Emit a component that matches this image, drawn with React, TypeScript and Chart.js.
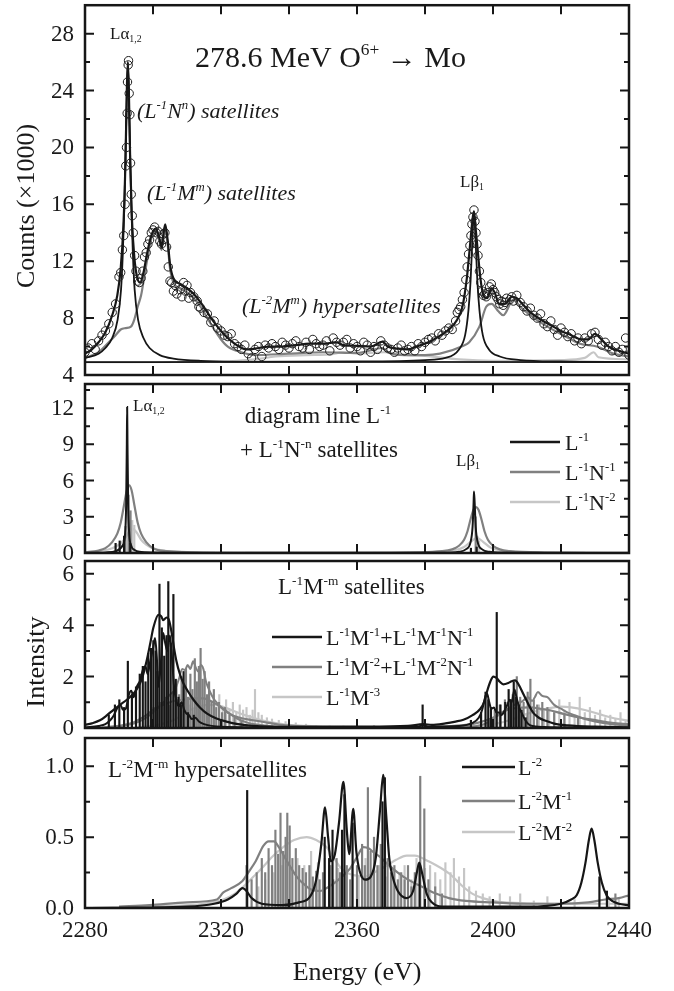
import React, { useEffect, useRef } from 'react';
import { Chart, registerables } from 'chart.js';
Chart.register(...registerables);

const FONT = "'Liberation Serif', 'Times New Roman', serif";
const BLACK = '#161616';
const GREY = '#808080';
const LIGHT = '#c6c6c6';
const X_MIN = 2280;
const X_MAX = 2440;
const X_TICKS = [2280, 2300, 2320, 2340, 2360, 2380, 2400, 2420, 2440];
const X_LABELS = [2280, 2320, 2360, 2400, 2440];

type Pt = [number, number];

// ---------- Panel 1 : measured spectrum (counts x1000) ----------
const measured: Pt[] = [
  [2280, 5.6], [2281, 5.9], [2282, 6.2], [2283, 5.8], [2284, 6.4], [2285, 6.8], [2286, 7.1], [2287, 7.6], [2288, 8.4], [2289, 9.0],
  [2290, 10.9], [2290.5, 11.2], [2291, 12.8], [2291.4, 13.8], [2291.8, 16.0], [2292, 18.7], [2292.2, 20.0], [2292.4, 22.4], [2292.5, 24.6], [2292.7, 25.8],
  [2292.8, 26.1], [2293, 23.8], [2293.2, 22.3], [2293.4, 18.9], [2293.6, 16.7], [2293.9, 15.2], [2294.2, 14.0], [2294.6, 12.4], [2295, 11.3], [2295.5, 10.6],
  [2296, 10.5], [2296.5, 10.8], [2297, 11.3], [2297.5, 12.3], [2298, 12.6], [2298.5, 13.2], [2299, 13.5], [2299.5, 14.0], [2300, 14.2], [2300.5, 14.4],
  [2301, 14.0], [2301.5, 14.1], [2302, 13.4], [2302.5, 13.2], [2303, 13.9], [2303.5, 14.0], [2304, 13.0], [2304.5, 11.6], [2305, 10.6], [2305.5, 10.5],
  [2306, 9.9], [2306.5, 10.3], [2307, 9.7], [2308, 10.0], [2308.5, 9.5], [2309, 10.5], [2309.5, 9.9], [2310, 10.3], [2310.5, 9.4], [2311, 9.8],
  [2312, 9.5], [2313, 9.2], [2313.5, 8.8], [2314, 8.7], [2315, 8.4], [2316, 8.3], [2317, 7.7], [2318, 7.8], [2319, 7.3], [2320, 7.1],
  [2321, 6.8], [2322, 6.7], [2323, 6.9], [2324, 6.2], [2325, 6.0], [2326, 5.8], [2327, 6.1], [2328, 5.5], [2329, 5.2], [2330, 5.8],
  [2331, 6.0], [2332, 5.3], [2333, 6.1], [2334, 5.9], [2335, 6.2], [2336, 6.0], [2337, 5.8], [2338, 6.3], [2339, 6.1], [2340, 5.9],
  [2341, 6.2], [2342, 6.4], [2343, 6.0], [2344, 5.9], [2345, 6.3], [2346, 5.8], [2347, 6.5], [2348, 6.2], [2349, 6.0], [2350, 6.1],
  [2351, 6.4], [2352, 5.7], [2353, 6.6], [2354, 6.3], [2355, 6.1], [2356, 6.3], [2357, 6.5], [2358, 5.9], [2359, 6.2], [2360, 6.0],
  [2361, 5.7], [2362, 6.3], [2363, 6.1], [2364, 5.6], [2365, 6.0], [2366, 5.8], [2367, 6.4], [2368, 6.1], [2369, 5.9], [2370, 5.8],
  [2371, 5.6], [2372, 5.9], [2373, 6.1], [2374, 5.7], [2375, 5.8], [2376, 6.0], [2377, 5.7], [2378, 6.2], [2379, 6.0], [2380, 6.3],
  [2381, 6.5], [2382, 6.6], [2383, 6.4], [2384, 6.9], [2385, 6.8], [2386, 7.1], [2387, 7.3], [2388, 7.2], [2389, 7.8], [2389.5, 8.4],
  [2390, 8.6], [2390.5, 8.8], [2391, 9.3], [2391.5, 9.8], [2392, 10.7], [2392.4, 11.6], [2392.8, 12.5], [2393.2, 13.1], [2393.5, 13.8], [2393.8, 14.6],
  [2394.1, 15.1], [2394.4, 15.6], [2394.7, 14.8], [2395, 14.0], [2395.3, 13.2], [2395.6, 12.4], [2396, 11.3], [2396.4, 10.5], [2396.8, 9.9], [2397.2, 9.6],
  [2397.6, 9.7], [2398, 9.5], [2398.5, 9.8], [2399, 10.2], [2399.5, 10.4], [2400, 10.0], [2400.5, 9.8], [2401, 9.5], [2401.5, 9.3], [2402, 9.0],
  [2402.5, 9.2], [2403, 8.9], [2403.5, 9.1], [2404, 9.4], [2405, 9.3], [2405.5, 9.5], [2406, 9.2], [2407, 9.6], [2408, 9.1], [2409, 8.8],
  [2410, 8.5], [2411, 8.7], [2412, 8.2], [2413, 8.0], [2414, 8.3], [2415, 7.6], [2416, 7.4], [2417, 7.8], [2418, 7.2], [2419, 6.8],
  [2420, 7.3], [2421, 7.0], [2422, 6.7], [2423, 6.9], [2424, 6.4], [2425, 6.6], [2426, 6.2], [2427, 6.6], [2428, 6.4], [2429, 6.9],
  [2430, 7.0], [2431, 6.5], [2432, 6.1], [2433, 6.3], [2434, 6.0], [2435, 5.7], [2436, 6.0], [2437, 5.6], [2438, 5.8], [2439, 6.6], [2440, 5.4],
];

const totalFit: Pt[] = [
  [2280, 5.5], [2282, 5.8], [2284, 6.3], [2286, 7.0], [2288, 8.2], [2289.5, 9.6], [2290.5, 11.5], [2291.3, 14.5], [2291.9, 19], [2292.3, 24],
  [2292.6, 26], [2292.9, 24], [2293.3, 19], [2293.8, 15], [2294.5, 12.3], [2295.3, 10.9], [2296.2, 10.5], [2297.2, 11.2], [2298.3, 12.6], [2299.5, 13.8],
  [2300.8, 14.3], [2301.8, 13.7], [2302.5, 13.0], [2303.0, 13.8], [2303.6, 14.6], [2304.3, 13.5], [2305.0, 11.8], [2306.0, 10.8], [2308, 10.4], [2310, 10.1],
  [2312, 9.7], [2314, 9.1], [2316, 8.4], [2318, 7.7], [2320, 7.1], [2322, 6.6], [2324, 6.2], [2326, 5.9], [2328, 5.8], [2330, 5.85],
  [2334, 6.0], [2338, 6.0], [2342, 6.1], [2346, 6.2], [2350, 6.2], [2354, 6.3], [2356, 6.1], [2360, 6.05], [2364, 6.0], [2367.5, 6.35],
  [2369, 6.0], [2372, 5.85], [2375, 5.8], [2378, 6.05], [2381, 6.3], [2384, 6.7], [2387, 7.2], [2389.5, 7.9], [2391, 8.8], [2392.3, 10.8],
  [2393.2, 13], [2394, 15.0], [2394.4, 15.5], [2394.9, 14.3], [2395.6, 12.5], [2396.3, 10.8], [2397.2, 9.6], [2398.3, 9.4], [2399.5, 10.1], [2400.5, 9.8],
  [2401.8, 9.0], [2403.5, 9.0], [2405.5, 9.5], [2407, 9.4], [2409, 8.9], [2411, 8.4], [2414, 7.9], [2417, 7.5], [2420, 7.1], [2423, 6.8],
  [2426, 6.5], [2428, 6.5], [2430, 6.9], [2431.5, 6.6], [2434, 6.0], [2437, 5.7], [2440, 5.5],
];

const lineLa: Pt[] = [
  [2280, 5.2], [2284, 5.5], [2286, 5.9], [2288, 6.6], [2289.6, 7.9], [2290.6, 10.0], [2291.1, 12.4], [2291.6, 16.0], [2292.1, 21.5], [2292.6, 26.0],
  [2293.1, 21.5], [2293.6, 16.0], [2294.1, 12.4], [2294.6, 10.0], [2295.6, 7.9], [2297.2, 6.6], [2299, 5.9], [2302, 5.4], [2306, 5.15], [2314, 5.0],
  [2340, 4.92], [2440, 4.9],
];

const lineLb: Pt[] = [
  [2280, 4.9], [2360, 4.95], [2380, 5.05], [2386, 5.2], [2390, 5.8], [2391.8, 6.8], [2392.8, 8.6], [2393.4, 10.6], [2393.9, 13.3], [2394.4, 15.5],
  [2394.9, 13.3], [2395.4, 10.6], [2396, 8.6], [2397, 6.8], [2398.8, 5.8], [2402, 5.3], [2408, 5.05], [2420, 4.95], [2440, 4.92],
];

const satL1M: Pt[] = [
  [2280, 5.2], [2284, 5.6], [2287, 6.3], [2289, 6.8], [2290.5, 7.2], [2292, 7.3], [2293.5, 7.4], [2294.5, 7.9], [2295.5, 8.8], [2296.5, 9.6],
  [2297.5, 11.0], [2298.5, 12.4], [2299.5, 13.6], [2300.6, 14.2], [2301.8, 13.5], [2302.5, 12.8], [2303.0, 13.5], [2303.6, 14.2], [2304.3, 13.2], [2305.0, 11.5],
  [2306.0, 10.5], [2308, 10.1], [2310, 9.8], [2312, 9.4], [2314, 8.8], [2316, 8.0], [2318, 7.2], [2320, 6.5], [2322, 6.0], [2326, 5.6],
  [2330, 5.4], [2340, 5.5], [2350, 5.6], [2360, 5.55], [2367.5, 5.9], [2369, 5.6], [2374, 5.4], [2380, 5.4], [2384.4, 5.5], [2391.3, 6.05],
  [2393, 6.3], [2396, 7.4], [2398, 8.8], [2399.6, 9.0], [2401.5, 8.5], [2403, 8.2], [2406, 9.3], [2408, 8.8], [2411, 8.2], [2416, 7.4],
  [2420.7, 6.8], [2425.6, 6.2], [2430.5, 6.0], [2435.4, 5.5], [2440, 5.3],
];

const hypL2M: Pt[] = [
  [2280, 4.9], [2320, 4.95], [2330, 5.1], [2336, 5.3], [2345, 5.4], [2352, 5.45], [2356, 5.6], [2360, 5.5], [2368, 5.6], [2375, 5.4],
  [2380, 5.35], [2390, 5.1], [2400, 5.0], [2420, 5.05], [2427, 5.2], [2429.6, 5.6], [2431, 5.25], [2440, 5.1],
];

// ---------- Panel 2 : diagram line + L-1N-n ----------
const p2L1: Pt[] = [
  [2280, 0], [2286, 0.05], [2289, 0.15], [2290, 0.3], [2291, 0.6], [2291.8, 1.6], [2292.1, 4], [2292.3, 9], [2292.4, 12.1], [2292.5, 9],
  [2292.7, 4], [2293, 1.6], [2293.6, 0.6], [2294.6, 0.25], [2296, 0.1], [2300, 0.04], [2320, 0.01], [2385, 0.02], [2390, 0.1], [2392, 0.3],
  [2393.4, 0.9], [2394, 2.2], [2394.3, 4.2], [2394.4, 5.1], [2394.6, 4.2], [2394.9, 2.2], [2395.5, 0.9], [2396.8, 0.3], [2399, 0.1], [2405, 0.02], [2440, 0],
];
const p2L1Sticks: Pt[] = [[2289.0, 0.8], [2290.2, 1.0], [2291.5, 1.4], [2293.3, 0.8], [2393.5, 0.4], [2395.2, 0.5]];
const p2L1N1: Pt[] = [
  [2280, 0.05], [2284, 0.2], [2286, 0.4], [2288, 0.9], [2289.5, 1.6], [2290.5, 2.5], [2291.5, 4.0], [2292.3, 5.2], [2293, 5.6], [2293.7, 5.2],
  [2294.5, 4.0], [2295.5, 2.5], [2296.5, 1.6], [2298, 0.9], [2300, 0.4], [2304, 0.15], [2315, 0.03], [2370, 0.02], [2385, 0.15], [2388, 0.3],
  [2390, 0.6], [2391.5, 1.1], [2392.5, 1.8], [2393.5, 2.9], [2394.3, 3.6], [2395, 3.8], [2395.7, 3.6], [2396.5, 2.9], [2397.5, 1.8], [2398.5, 1.1],
  [2400, 0.6], [2402, 0.3], [2405, 0.15], [2415, 0.04], [2440, 0.01],
];
const p2L1N1Sticks: Pt[] = [[2291.9, 2.2], [2292.8, 4.8], [2293.4, 3.5], [2394.9, 3.0]];
const p2L1N2: Pt[] = [
  [2280, 0.05], [2285, 0.2], [2288, 0.4], [2290, 0.7], [2291.5, 1.1], [2292.8, 1.7], [2294, 2.0], [2295.2, 1.7], [2296.5, 1.1], [2298, 0.7],
  [2300, 0.4], [2303, 0.2], [2310, 0.08], [2330, 0.02], [2375, 0.02], [2385, 0.1], [2389, 0.25], [2391.5, 0.5], [2393.5, 0.95], [2395.3, 1.25],
  [2397, 0.95], [2399, 0.5], [2401.5, 0.25], [2405, 0.12], [2412, 0.05], [2440, 0.01],
];
const p2L1N2Sticks: Pt[] = [[2292.9, 1.2], [2293.9, 2.7], [2294.5, 2.3], [2395.4, 1.4], [2395.9, 1.0]];

// ---------- Panel 3 : L-1M-m satellites ----------
const p3M1Env: Pt[] = [
  [2280, 0.12], [2282, 0.18], [2284.4, 0.3], [2286.5, 0.5], [2288.3, 0.7], [2290.3, 0.9], [2292.3, 1.1], [2294, 1.3], [2295.2, 1.5], [2296.7, 1.9],
  [2298.1, 2.6], [2299.2, 3.3], [2300.1, 3.9], [2301.6, 4.4], [2302.4, 4.35], [2303, 4.2], [2304, 4.3], [2304.7, 4.2], [2305.5, 3.7], [2306.2, 3.1],
  [2306.9, 2.6], [2307.9, 2.1], [2308.9, 1.75], [2310.4, 1.4], [2311.9, 1.1], [2313.8, 0.8], [2315.8, 0.57], [2318.5, 0.38], [2321.6, 0.25], [2325, 0.15],
  [2329.5, 0.08], [2340, 0.04], [2360, 0.05], [2375, 0.08], [2379.5, 0.15], [2382, 0.12], [2386, 0.18], [2389, 0.25], [2391.3, 0.32], [2394, 0.5],
  [2396.3, 0.75], [2397.5, 1.05], [2398.2, 1.4], [2399.2, 1.8], [2400.1, 2.0], [2401, 1.95], [2402, 1.8], [2403, 1.7], [2404.5, 1.75], [2405.5, 1.82],
  [2406.5, 1.85], [2407.5, 1.7], [2409, 1.3], [2410.5, 0.9], [2411.8, 0.6], [2413.5, 0.4], [2415.7, 0.27], [2418, 0.17], [2422, 0.1], [2430, 0.05], [2440, 0.03],
];
const p3M1Fine: Pt[] = [
  [2280, 0.02], [2284, 0.08], [2286, 0.15], [2287.4, 0.3], [2288.5, 0.5], [2289.4, 0.75], [2290.4, 0.9], [2291.2, 0.7], [2292, 0.75], [2292.9, 1.3],
  [2293.6, 1.45], [2294.3, 1.2], [2295.2, 1.6], [2296.2, 1.85], [2297.1, 2.3], [2297.8, 2.4], [2298.4, 2.1], [2299.2, 2.6], [2300, 3.1], [2300.6, 3.5],
  [2301.1, 2.8], [2301.6, 1.6], [2302.3, 2.5], [2303, 3.7], [2303.6, 3.3], [2304.2, 3.0], [2305, 3.6], [2305.6, 2.7], [2306.2, 1.6], [2307, 1.0],
  [2307.6, 0.85], [2308.4, 1.0], [2309.2, 0.7], [2309.9, 0.55], [2310.6, 0.5], [2311.4, 0.35], [2312.5, 0.4], [2313.5, 0.25], [2315, 0.15], [2320, 0.05],
  [2340, 0.02], [2378, 0.05], [2379.4, 0.12], [2381, 0.05], [2390, 0.08], [2394, 0.2], [2395.8, 0.4], [2396.8, 0.7], [2397.5, 1.1], [2398.2, 1.35],
  [2398.9, 1.0], [2399.5, 0.75], [2400.3, 0.8], [2401, 0.6], [2401.8, 0.6], [2402.5, 0.5], [2403.3, 0.65], [2404.2, 0.9], [2404.9, 1.1], [2405.5, 1.0],
  [2406.3, 1.5], [2406.9, 1.2], [2407.7, 0.8], [2408.6, 0.55], [2409.5, 0.3], [2411, 0.1], [2415, 0.04], [2440, 0.01],
];
const p3M1Sticks: Pt[] = [
  [2287.0, 0.5], [2288.8, 0.9], [2290.1, 1.1], [2291.5, 0.8], [2292.6, 2.6], [2293.8, 1.3], [2295.0, 1.6], [2296.1, 2.1], [2297.0, 2.4], [2297.8, 1.8],
  [2298.6, 2.9], [2299.4, 3.1], [2300.1, 3.4], [2300.8, 3.0], [2301.3, 2.2], [2301.9, 5.6], [2302.6, 3.9], [2303.3, 2.8], [2304.0, 3.6], [2304.5, 5.7],
  [2305.2, 3.3], [2306.0, 5.2], [2306.7, 1.9], [2307.5, 1.2], [2308.2, 0.9], [2309.0, 2.2], [2310.3, 0.6], [2312.0, 0.5], [2379.3, 0.9], [2393.5, 0.3],
  [2396.5, 0.6], [2397.8, 1.4], [2398.6, 1.1], [2399.4, 0.8], [2401.1, 4.5], [2402.2, 0.9], [2403.6, 1.0], [2404.6, 1.5], [2405.3, 1.1], [2406.1, 1.8],
  [2406.8, 1.2], [2407.6, 0.9], [2408.4, 0.7], [2409.6, 0.4],
];
const p3M2Env: Pt[] = [
  [2285, 0.02], [2290, 0.08], [2294, 0.2], [2296.2, 0.35], [2298, 0.5], [2300, 0.7], [2302, 0.85], [2304, 0.95], [2306, 1.05], [2309, 1.1],
  [2312, 1.15], [2314.8, 1.15], [2317, 1.05], [2319, 0.9], [2320.7, 0.75], [2322.6, 0.55], [2325, 0.42], [2329.5, 0.3], [2334, 0.2], [2339, 0.1],
  [2350, 0.04], [2370, 0.03], [2385, 0.06], [2392, 0.12], [2396, 0.22], [2400, 0.4], [2404, 0.7], [2407, 0.78], [2411, 0.8], [2414, 0.75],
  [2417, 0.68], [2420.7, 0.55], [2425, 0.42], [2430.5, 0.3], [2435, 0.2], [2440, 0.14],
];
const p3M2Fine: Pt[] = [
  [2290, 0.05], [2295, 0.2], [2298, 0.4], [2300, 0.6], [2302, 0.85], [2303.5, 1.05], [2305, 1.3], [2306.5, 1.5], [2307.6, 1.9], [2308.6, 2.3],
  [2309.4, 2.25], [2310.2, 2.45], [2311, 2.3], [2311.8, 2.6], [2312.6, 2.35], [2313.3, 2.2], [2314.1, 2.45], [2314.8, 2.3], [2315.6, 1.8], [2316.8, 1.4],
  [2317.8, 1.15], [2318.7, 1.0], [2320, 0.8], [2321.4, 0.65], [2322.6, 0.55], [2325, 0.35], [2328, 0.2], [2333, 0.1], [2340, 0.04], [2390, 0.03],
  [2396, 0.1], [2399, 0.25], [2401, 0.45], [2403, 0.6], [2405, 0.8], [2407, 0.95], [2408.7, 1.05], [2410.3, 1.2], [2411.5, 1.05], [2412.3, 1.2],
  [2413.2, 1.4], [2414.5, 1.25], [2416, 1.2], [2418, 0.9], [2420, 0.75], [2422, 0.6], [2424, 0.5], [2427, 0.35], [2430, 0.25], [2435, 0.15], [2440, 0.1],
];
const p3M2Sticks: Pt[] = [
  [2298.5, 0.5], [2300.2, 0.8], [2302.0, 1.0], [2303.8, 1.2], [2305.0, 0.9], [2306.0, 1.4], [2306.9, 1.7], [2307.7, 1.3], [2308.4, 2.0], [2309.0, 1.6],
  [2309.7, 2.3], [2310.3, 1.2], [2311.0, 2.1], [2311.6, 1.5], [2312.3, 2.7], [2312.9, 1.8], [2313.5, 2.4], [2314.0, 3.1], [2314.6, 1.9], [2315.2, 2.2],
  [2315.9, 1.3], [2316.5, 1.8], [2317.2, 1.0], [2317.9, 1.5], [2318.6, 0.8], [2319.4, 1.0], [2320.3, 0.6], [2321.2, 0.8], [2322.5, 0.5], [2324, 0.4],
  [2326, 0.3], [2399.0, 0.3], [2400.5, 0.7], [2402.0, 0.9], [2403.5, 1.1], [2404.8, 0.8], [2405.8, 1.3], [2407.0, 2.0], [2408.0, 1.2], [2409.0, 1.0],
  [2410.2, 1.4], [2411.0, 1.9], [2412.0, 1.1], [2413.0, 0.9], [2414.5, 1.0], [2416, 0.8], [2418, 0.6], [2421, 0.5], [2425, 0.4],
];
const p3M3Env: Pt[] = [
  [2295, 0.02], [2300, 0.08], [2305, 0.25], [2308, 0.45], [2311, 0.7], [2314, 0.85], [2317, 0.9], [2320, 0.85], [2323, 0.7], [2327, 0.5],
  [2332, 0.3], [2338, 0.15], [2345, 0.08], [2355, 0.04], [2380, 0.03], [2395, 0.08], [2402, 0.2], [2406, 0.35], [2410, 0.55], [2414, 0.7],
  [2418, 0.8], [2420, 0.83], [2423, 0.8], [2427, 0.7], [2431, 0.55], [2435, 0.4], [2440, 0.28],
];
const p3M3Sticks: Pt[] = [
  [2309, 0.6], [2310.5, 0.9], [2312, 0.7], [2313.5, 1.0], [2315, 0.8], [2316.5, 1.2], [2318, 0.9], [2319.5, 1.3], [2320.5, 0.8], [2321.5, 1.1],
  [2322.5, 0.7], [2323.5, 1.0], [2324.5, 0.6], [2325.5, 0.9], [2326.5, 0.7], [2327.5, 0.8], [2328.5, 0.5], [2329.3, 0.7], [2330, 1.5], [2331, 0.6],
  [2332, 0.5], [2333.5, 0.4], [2335, 0.35], [2337, 0.3], [2339, 0.25], [2342, 0.2], [2345, 0.15], [2348, 0.1], [2352, 0.08], [2356, 0.08],
  [2365, 0.1], [2405, 0.3], [2408, 0.4], [2410, 0.5], [2412, 0.6], [2413.5, 0.9], [2415, 0.7], [2416.5, 0.8], [2418, 0.6], [2419.5, 1.1],
  [2421, 0.7], [2422.5, 1.0], [2424, 0.5], [2425.5, 1.2], [2427, 0.6], [2428.5, 0.8], [2430, 0.5], [2431.5, 0.7], [2433, 0.4], [2434.5, 0.5],
  [2436, 0.35], [2437.5, 0.6], [2439, 0.3],
];

// ---------- Panel 4 : L-2M-m hypersatellites ----------
const p4L2: Pt[] = [
  [2280, 0], [2310, 0.01], [2318, 0.03], [2322, 0.06], [2324.5, 0.1], [2326.3, 0.14], [2327.5, 0.12], [2329, 0.07], [2332, 0.03], [2338, 0.02],
  [2343, 0.04], [2346.2, 0.08], [2348, 0.2], [2349.5, 0.45], [2350.6, 0.71], [2351.5, 0.5], [2352.3, 0.33], [2353.5, 0.38], [2354.7, 0.6], [2356, 0.89],
  [2357, 0.55], [2357.7, 0.38], [2358.9, 0.7], [2359.8, 0.4], [2360.8, 0.26], [2362.4, 0.2], [2364, 0.22], [2365.5, 0.35], [2366.8, 0.7], [2367.7, 0.94],
  [2368.6, 0.65], [2369.5, 0.35], [2370.5, 0.22], [2372, 0.12], [2374.6, 0.07], [2376.5, 0.12], [2377.6, 0.25], [2378.3, 0.32], [2379.2, 0.24], [2380.5, 0.1],
  [2382, 0.04], [2385, 0.01], [2410, 0.01], [2420, 0.03], [2423, 0.06], [2424.6, 0.09], [2426, 0.18], [2427.2, 0.32], [2428.2, 0.48], [2429, 0.56],
  [2429.8, 0.48], [2430.8, 0.32], [2432, 0.18], [2433.4, 0.09], [2435, 0.05], [2437, 0.03], [2440, 0.02],
];
const p4L2Sticks: Pt[] = [
  [2327.7, 0.83], [2350.5, 0.5], [2351.8, 0.35], [2352.8, 0.55], [2355.6, 0.55], [2356.3, 0.8], [2358.7, 0.6], [2367.5, 0.75], [2368.2, 0.92], [2378.4, 0.3],
  [2431.3, 0.22], [2433.5, 0.12],
];
const p4M1: Pt[] = [
  [2290, 0.01], [2299, 0.02], [2310, 0.04], [2318.8, 0.06], [2320.7, 0.11], [2323, 0.14], [2326.3, 0.19], [2328, 0.25], [2330.2, 0.33], [2332.5, 0.44],
  [2334, 0.47], [2335.6, 0.47], [2337, 0.43], [2338.7, 0.36], [2340.4, 0.29], [2342.3, 0.22], [2344.3, 0.17], [2346.5, 0.13], [2349.2, 0.12], [2351, 0.14],
  [2353, 0.17], [2355.5, 0.22], [2358, 0.28], [2360, 0.36], [2361.9, 0.43], [2363.5, 0.42], [2365, 0.39], [2366.8, 0.36], [2369, 0.31], [2372, 0.25],
  [2375, 0.2], [2378.3, 0.16], [2380, 0.14], [2381.5, 0.12], [2383.4, 0.1], [2387, 0.07], [2392, 0.05], [2400, 0.04], [2410, 0.03], [2420, 0.03],
  [2428, 0.04], [2433, 0.06], [2437, 0.07], [2440, 0.09],
];
const p4M1Sticks: Pt[] = [
  [2327.5, 0.3], [2329, 0.2], [2330.5, 0.25], [2332, 0.35], [2333, 0.25], [2334, 0.42], [2335, 0.3], [2336, 0.55], [2336.8, 0.38], [2337.5, 0.67],
  [2338.3, 0.4], [2339, 0.5], [2339.5, 0.67], [2340.2, 0.58], [2341, 0.35], [2342, 0.42], [2343, 0.3], [2344, 0.28], [2345, 0.25], [2346, 0.3],
  [2347, 0.22], [2348, 0.26], [2349, 0.2], [2350, 0.25], [2352, 0.3], [2353, 0.2], [2354, 0.35], [2355, 0.25], [2357, 0.3], [2358, 0.2],
  [2360, 0.3], [2361.5, 0.45], [2362.3, 0.3], [2363.2, 0.85], [2364, 0.4], [2365, 0.5], [2366, 0.3], [2367, 0.45], [2369, 0.35], [2370, 0.25],
  [2371, 0.3], [2372, 0.2], [2373, 0.25], [2374, 0.2], [2375, 0.3], [2376, 0.15], [2377, 0.25], [2378.6, 0.93], [2379.8, 0.7], [2381, 0.2],
  [2383, 0.15], [2385, 0.1], [2436, 0.1],
];
const p4M2: Pt[] = [
  [2300, 0.01], [2315, 0.03], [2320.7, 0.06], [2324, 0.1], [2327, 0.16], [2329.5, 0.22], [2332, 0.28], [2335, 0.36], [2338.3, 0.43], [2341.5, 0.48],
  [2345.2, 0.5], [2348, 0.48], [2351, 0.43], [2353, 0.36], [2355, 0.29], [2357, 0.25], [2359.5, 0.23], [2362, 0.22], [2365, 0.25], [2368.8, 0.3],
  [2371.5, 0.34], [2374.6, 0.37], [2377, 0.37], [2378.5, 0.36], [2381, 0.33], [2383.4, 0.3], [2385.5, 0.27], [2387.3, 0.24], [2389.5, 0.19], [2391.2, 0.15],
  [2394, 0.1], [2397, 0.07], [2403, 0.04], [2420, 0.03], [2440, 0.03],
];
const p4M2Sticks: Pt[] = [
  [2331, 0.15], [2333, 0.2], [2335.5, 0.25], [2338, 0.3], [2340.5, 0.28], [2342.5, 0.35], [2344.5, 0.3], [2346.5, 0.4], [2348.5, 0.32], [2350.5, 0.35],
  [2352.5, 0.3], [2354.5, 0.28], [2356.5, 0.25], [2358.5, 0.3], [2360.5, 0.22], [2362.5, 0.35], [2364.5, 0.25], [2366.5, 0.3], [2368.5, 0.22], [2370.5, 0.28],
  [2372.5, 0.25], [2374, 0.3], [2376, 0.2], [2377.5, 0.35], [2380, 0.28], [2381.5, 0.3], [2383, 0.25], [2384.5, 0.2], [2386, 0.32], [2387.5, 0.25],
  [2388.5, 0.35], [2390, 0.22], [2391.5, 0.28], [2393, 0.15], [2395, 0.12], [2397, 0.1], [2399, 0.08], [2402, 0.1], [2405, 0.08], [2408, 0.1],
  [2412, 0.05], [2416, 0.08], [2420, 0.05], [2424, 0.06], [2434, 0.05], [2437, 0.06],
];

// ---------- helpers ----------
const toXY = (a: Pt[]) => a.map(([x, y]) => ({ x, y }));

function lineDs(data: Pt[], color: string, width: number, order: number) {
  return {
    type: 'line', data: toXY(data), borderColor: color, borderWidth: width, pointRadius: 0,
    fill: false, cubicInterpolationMode: 'monotone', order,
  };
}
function stickDs(data: Pt[], color: string, order: number) {
  return {
    type: 'bar', data: toXY(data), backgroundColor: color, borderWidth: 0,
    barThickness: 1.5, grouped: false, order,
  };
}

type Part = { t: string; k: number };
function parseRich(s: string): Part[] {
  const parts: Part[] = [];
  let buf = '';
  let i = 0;
  while (i < s.length) {
    const c = s[i];
    if ((c === '^' || c === '_') && s[i + 1] === '{') {
      if (buf) { parts.push({ t: buf, k: 0 }); buf = ''; }
      const end = s.indexOf('}', i);
      parts.push({ t: s.slice(i + 2, end), k: c === '^' ? 1 : -1 });
      i = end + 1;
    } else { buf += c; i++; }
  }
  if (buf) parts.push({ t: buf, k: 0 });
  return parts;
}

function drawRich(ctx: CanvasRenderingContext2D, s: string, x: number, y: number, size: number, italic = false, align = 'left') {
  const parts = parseRich(s);
  const small = size * 0.58;
  const font = (sz: number) => `${italic ? 'italic ' : ''}${sz}px ${FONT}`;
  let w = 0;
  for (const p of parts) { ctx.font = font(p.k ? small : size); w += ctx.measureText(p.t).width; }
  let cx = align === 'center' ? x - w / 2 : x;
  ctx.textAlign = 'left';
  ctx.textBaseline = 'alphabetic';
  for (const p of parts) {
    ctx.font = font(p.k ? small : size);
    const dy = p.k === 1 ? -size * 0.4 : p.k === -1 ? size * 0.2 : 0;
    ctx.fillText(p.t, cx, y + dy);
    cx += ctx.measureText(p.t).width;
  }
}

type TextSpec = { s: string; x: number; y: number; size: number; italic?: boolean; align?: string; rotate?: boolean };
type LegendSpec = { x1: number; x2: number; tx: number; items: { y: number; color: string; s: string }[] };
type PanelSpec = {
  top: number; height: number; padTop: number; padBottom: number;
  yMin: number; yMax: number; major: number[]; minor: number[]; fmt: (v: number) => string;
  xLabels: boolean; texts: TextSpec[]; legend?: LegendSpec; datasets: any[];
};

function framePlugin(spec: PanelSpec) {
  return {
    id: 'frame' + spec.top,
    afterDraw(chart: any) {
      const { ctx, chartArea: a, scales } = chart;
      const xs = scales.x; const ys = scales.y;
      ctx.save();
      ctx.strokeStyle = BLACK;
      ctx.fillStyle = '#1a1a1a';
      ctx.lineWidth = 2;
      ctx.beginPath();
      for (const v of X_TICKS) {
        if (v === X_MIN || v === X_MAX) continue;
        const px = xs.getPixelForValue(v);
        ctx.moveTo(px, a.bottom); ctx.lineTo(px, a.bottom - 9);
        ctx.moveTo(px, a.top); ctx.lineTo(px, a.top + 9);
      }
      for (const v of spec.major) {
        if (v === spec.yMin || v === spec.yMax) continue;
        const py = ys.getPixelForValue(v);
        ctx.moveTo(a.left, py); ctx.lineTo(a.left + 9, py);
        ctx.moveTo(a.right, py); ctx.lineTo(a.right - 9, py);
      }
      for (const v of spec.minor) {
        const py = ys.getPixelForValue(v);
        ctx.moveTo(a.left, py); ctx.lineTo(a.left + 5, py);
        ctx.moveTo(a.right, py); ctx.lineTo(a.right - 5, py);
      }
      ctx.stroke();
      ctx.lineWidth = 2.5;
      ctx.strokeRect(a.left, a.top, a.right - a.left, a.bottom - a.top);
      ctx.font = `23px ${FONT}`;
      ctx.textAlign = 'right';
      ctx.textBaseline = 'middle';
      for (const v of spec.major) {
        ctx.fillText(spec.fmt(v), a.left - 11, ys.getPixelForValue(v) + 1);
      }
      if (spec.xLabels) {
        ctx.textAlign = 'center';
        ctx.textBaseline = 'alphabetic';
        for (const v of X_LABELS) ctx.fillText(String(v), xs.getPixelForValue(v), 937 - spec.top);
      }
      for (const t of spec.texts) {
        if (t.rotate) {
          ctx.save();
          ctx.translate(t.x, t.y - spec.top);
          ctx.rotate(-Math.PI / 2);
          drawRich(ctx, t.s, 0, 0, t.size, !!t.italic, 'center');
          ctx.restore();
        } else {
          drawRich(ctx, t.s, t.x, t.y - spec.top, t.size, !!t.italic, t.align || 'left');
        }
      }
      if (spec.legend) {
        const L = spec.legend;
        for (const it of L.items) {
          ctx.strokeStyle = it.color;
          ctx.lineWidth = 2.5;
          ctx.beginPath();
          ctx.moveTo(L.x1, it.y - spec.top); ctx.lineTo(L.x2, it.y - spec.top);
          ctx.stroke();
          ctx.fillStyle = '#1a1a1a';
          drawRich(ctx, it.s, L.tx, it.y - spec.top + 8, 22);
        }
      }
      ctx.restore();
    },
  };
}

const PANELS: PanelSpec[] = [
  {
    top: 0, height: 392, padTop: 4, padBottom: 17, yMin: 4, yMax: 30,
    major: [4, 8, 12, 16, 20, 24, 28], minor: [6, 10, 14, 18, 22, 26], fmt: (v) => String(v), xLabels: false,
    texts: [
      { s: 'Lα_{1,2}', x: 110, y: 39, size: 17 },
      { s: '278.6 MeV O^{6+} → Mo', x: 195, y: 67, size: 30 },
      { s: '(L^{-1}N^{n}) satellites', x: 137, y: 118, size: 22, italic: true },
      { s: '(L^{-1}M^{m}) satellites', x: 147, y: 200, size: 22, italic: true },
      { s: '(L^{-2}M^{m}) hypersatellites', x: 242, y: 313, size: 22, italic: true },
      { s: 'Lβ_{1}', x: 460, y: 187, size: 17 },
      { s: 'Counts (×1000)', x: 34, y: 206, size: 26, rotate: true },
    ],
    datasets: [
      { type: 'line', data: toXY(measured), showLine: false, pointRadius: 4.2, pointBorderWidth: 1, pointBorderColor: '#1e1e1e', pointBackgroundColor: 'rgba(0,0,0,0)', order: 0 },
      lineDs(totalFit, BLACK, 2.2, 1),
      lineDs(lineLa, BLACK, 1.8, 2),
      lineDs(lineLb, BLACK, 1.8, 3),
      lineDs(satL1M, GREY, 2.2, 4),
      lineDs(hypL2M, LIGHT, 2.2, 5),
    ],
  },
  {
    top: 372, height: 196, padTop: 12, padBottom: 15, yMin: 0, yMax: 14,
    major: [0, 3, 6, 9, 12], minor: [1.5, 4.5, 7.5, 10.5, 13.5], fmt: (v) => String(v), xLabels: false,
    texts: [
      { s: 'Lα_{1,2}', x: 133, y: 411, size: 17 },
      { s: 'diagram line L^{-1}', x: 318, y: 423, size: 23, align: 'center' },
      { s: '+ L^{-1}N^{-n} satellites', x: 319, y: 457, size: 23, align: 'center' },
      { s: 'Lβ_{1}', x: 456, y: 466, size: 17 },
    ],
    legend: {
      x1: 510, x2: 560, tx: 565,
      items: [
        { y: 442, color: BLACK, s: 'L^{-1}' },
        { y: 472, color: GREY, s: 'L^{-1}N^{-1}' },
        { y: 502, color: LIGHT, s: 'L^{-1}N^{-2}' },
      ],
    },
    datasets: [
      lineDs(p2L1, BLACK, 2, 0),
      stickDs(p2L1Sticks, BLACK, 1),
      lineDs(p2L1N1, GREY, 2.2, 2),
      stickDs(p2L1N1Sticks, GREY, 3),
      lineDs(p2L1N2, LIGHT, 2.2, 4),
      stickDs(p2L1N2Sticks, LIGHT, 5),
    ],
  },
  {
    top: 548, height: 192, padTop: 13, padBottom: 12, yMin: 0, yMax: 6.5,
    major: [0, 2, 4, 6], minor: [1, 3, 5], fmt: (v) => String(v), xLabels: false,
    texts: [
      { s: 'L^{-1}M^{-m} satellites', x: 278, y: 594, size: 23 },
      { s: 'Intensity', x: 44, y: 662, size: 26, rotate: true },
    ],
    legend: {
      x1: 272, x2: 322, tx: 326,
      items: [
        { y: 637, color: BLACK, s: 'L^{-1}M^{-1}+L^{-1}M^{-1}N^{-1}' },
        { y: 667, color: GREY, s: 'L^{-1}M^{-2}+L^{-1}M^{-2}N^{-1}' },
        { y: 697, color: LIGHT, s: 'L^{-1}M^{-3}' },
      ],
    },
    datasets: [
      lineDs(p3M1Env, BLACK, 2.2, 0),
      lineDs(p3M1Fine, BLACK, 2, 1),
      stickDs(p3M1Sticks, BLACK, 2),
      lineDs(p3M2Env, GREY, 2.2, 3),
      lineDs(p3M2Fine, GREY, 2, 4),
      stickDs(p3M2Sticks, GREY, 5),
      lineDs(p3M3Env, LIGHT, 2.2, 6),
      stickDs(p3M3Sticks, LIGHT, 7),
    ],
  },
  {
    top: 726, height: 265, padTop: 12, padBottom: 83, yMin: 0, yMax: 1.2,
    major: [0, 0.5, 1.0], minor: [0.25, 0.75], fmt: (v) => v.toFixed(1), xLabels: true,
    texts: [
      { s: 'L^{-2}M^{-m} hypersatellites', x: 108, y: 777, size: 23 },
      { s: 'Energy (eV)', x: 357, y: 980, size: 26, align: 'center' },
    ],
    legend: {
      x1: 462, x2: 515, tx: 518,
      items: [
        { y: 767, color: BLACK, s: 'L^{-2}' },
        { y: 801, color: GREY, s: 'L^{-2}M^{-1}' },
        { y: 832, color: LIGHT, s: 'L^{-2}M^{-2}' },
      ],
    },
    datasets: [
      lineDs(p4L2, BLACK, 2.2, 0),
      stickDs(p4L2Sticks, BLACK, 1),
      lineDs(p4M1, GREY, 2.2, 2),
      stickDs(p4M1Sticks, GREY, 3),
      lineDs(p4M2, LIGHT, 2.2, 4),
      stickDs(p4M2Sticks, LIGHT, 5),
    ],
  },
];

function Panel({ spec }: { spec: PanelSpec }) {
  const ref = useRef<HTMLCanvasElement | null>(null);
  useEffect(() => {
    if (!ref.current) return;
    const chart = new Chart(ref.current, {
      type: 'line',
      data: { datasets: spec.datasets as any },
      options: {
        responsive: false,
        animation: false,
        devicePixelRatio: 1,
        events: [],
        layout: { padding: { left: 85, right: 45, top: spec.padTop, bottom: spec.padBottom } },
        scales: {
          x: { type: 'linear', min: X_MIN, max: X_MAX, display: false, offset: false },
          y: { type: 'linear', min: spec.yMin, max: spec.yMax, display: false },
        },
        plugins: { legend: { display: false }, tooltip: { enabled: false } },
      } as any,
      plugins: [framePlugin(spec)],
    });
    return () => chart.destroy();
  }, [spec]);
  return (
    <canvas
      ref={ref}
      width={674}
      height={spec.height}
      style={{ position: 'absolute', left: 0, top: spec.top, width: 674, height: spec.height }}
    />
  );
}

export default function App() {
  return (
    <div style={{ position: 'absolute', left: 0, top: 0, width: 674, height: 991, background: '#fff' }}>
      {PANELS.map((p) => <Panel key={p.top} spec={p} />)}
    </div>
  );
}
